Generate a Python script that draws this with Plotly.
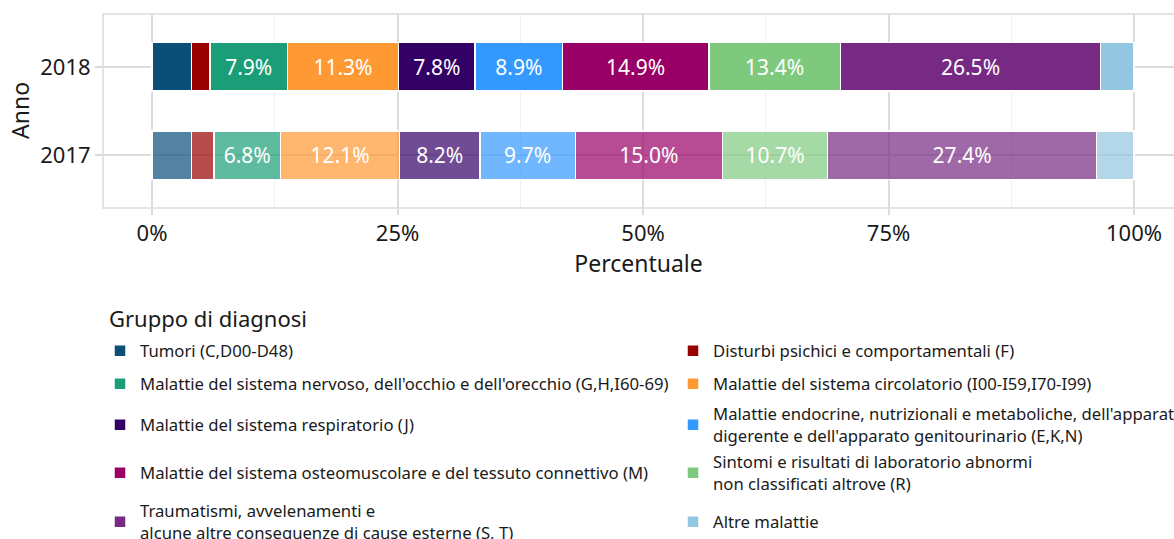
import plotly.graph_objects as go

# dati (percentuali)
anni = ["2018", "2017"]
gruppi = [
    "Tumori (C,D00-D48)",
    "Disturbi psichici e comportamentali (F)",
    "Malattie del sistema nervoso, dell'occhio e dell'orecchio (G,H,I60-69)",
    "Malattie del sistema circolatorio (I00-I59,I70-I99)",
    "Malattie del sistema respiratorio (J)",
    "Malattie endocrine, nutrizionali e metaboliche, dell'apparato<br>digerente e dell'apparato genitourinario (E,K,N)",
    "Malattie del sistema osteomuscolare e del tessuto connettivo (M)",
    "Sintomi e risultati di laboratorio abnormi<br>non classificati altrove (R)",
    "Traumatismi, avvelenamenti e<br>alcune altre conseguenze di cause esterne (S, T)",
    "Altre malattie",
]
valori_2018 = [4.0, 1.9, 7.9, 11.3, 7.8, 8.9, 14.9, 13.4, 26.5, 3.4]
valori_2017 = [4.0, 2.3, 6.8, 12.1, 8.2, 9.7, 15.0, 10.7, 27.4, 3.8]
etichetta = [False, False, True, True, True, True, True, True, True, False]
colori = ["#0b4f79", "#990000", "#1b9e77", "#ff9933", "#330066",
          "#3399ff", "#990066", "#7fc97f", "#762a83", "#93c6e0"]
tick_pos = [0, 25, 50, 75, 100]
tick_lab = ["0%", "25%", "50%", "75%", "100%"]

W, H = 1174, 539
FONT = "Noto Sans"
GRID = "#dcdcdc"
# legenda a due colonne (posizioni in pixel)
leg_col_x = [100, 673]
leg_row_y = [351, 384, 425, 473, 522]


def rgba(hex_col, a):
    h = hex_col.lstrip("#")
    r, g, b = int(h[0:2], 16), int(h[2:4], 16), int(h[4:6], 16)
    return f"rgba({r},{g},{b},{a})"


fig = go.Figure()
legends = {}
for i, g in enumerate(gruppi):
    vals = [valori_2018[i], valori_2017[i]]
    txt = [f"{v:.1f}%" if etichetta[i] else "" for v in vals]
    lid = "legend" if i == 0 else f"legend{i + 1}"
    fig.add_trace(go.Bar(
        y=anni, x=vals, name=g, orientation="h",
        width=0.55, legend=lid, showlegend=True,
        text=txt, textposition="inside", insidetextanchor="middle",
        textfont=dict(color="white", size=21, family=FONT),
        marker=dict(color=[rgba(colori[i], 1), rgba(colori[i], 0.7)],
                    line=dict(color="white", width=1.5)),
        hoverinfo="x+name",
    ))
    legends[lid] = dict(
        xref="container", yref="container",
        x=leg_col_x[i % 2] / W, xanchor="left",
        y=1 - leg_row_y[i // 2] / H, yanchor="middle",
        font=dict(size=16.7), valign="middle",
        bgcolor="rgba(0,0,0,0)",
    )

fig.update_layout(
    barmode="stack", showlegend=True,
    width=W, height=H,
    margin=dict(l=103, r=0, t=14, b=331, autoexpand=False),
    plot_bgcolor="white", paper_bgcolor="white",
    font=dict(family=FONT, size=22, color="#1a1a1a"),
    **legends,
)
fig.add_annotation(text="Gruppo di diagnosi", xref="paper", yref="paper",
                   x=(107 - 103) / (W - 103), y=-(318 - 208) / 194,
                   xanchor="left", yanchor="middle", showarrow=False,
                   font=dict(size=22))
# titolo asse y
fig.add_annotation(text="Anno", xref="paper", yref="paper",
                   x=(20 - 103) / (W - 103), y=0.5, textangle=-90,
                   xanchor="center", yanchor="middle", showarrow=False,
                   font=dict(size=23))
fig.update_xaxes(
    range=[-4.99, 104.07], tickvals=tick_pos, ticktext=tick_lab,
    showgrid=True, gridcolor=GRID, gridwidth=2,
    minor=dict(tickvals=[12.5, 37.5, 62.5, 87.5], showgrid=True, gridcolor="#efefef", gridwidth=1),
    ticks="outside", ticklen=6, tickwidth=2, tickcolor=GRID,
    zeroline=False, automargin=False,
    title=dict(text="Percentuale", standoff=3, font=dict(size=23)),
)
fig.update_yaxes(
    categoryorder="array", categoryarray=["2017", "2018"], range=[-0.6, 1.6],
    showgrid=True, gridcolor=GRID, gridwidth=2,
    ticks="outside", ticklen=7, tickwidth=2, tickcolor=GRID,
    automargin=False,
)
# bordo del pannello
fig.add_shape(type="rect", xref="paper", yref="paper", x0=0, x1=1.02, y0=0, y1=1,
              line=dict(color=GRID, width=1.5), layer="above")

fig.write_html("out.html", config={"displayModeBar": False},
               post_script="document.body.style.margin='0px';")
